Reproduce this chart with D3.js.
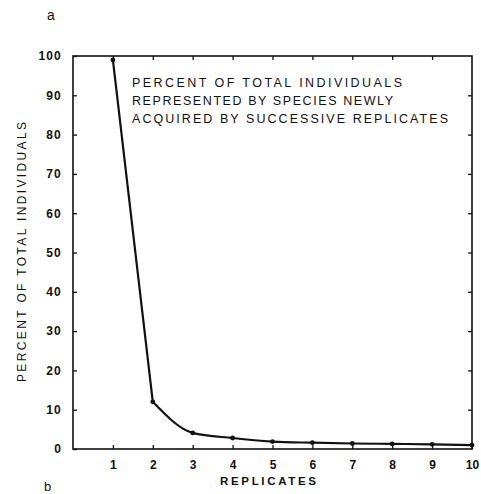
<!DOCTYPE html>
<html>
<head>
<meta charset="utf-8">
<script src="https://cdn.jsdelivr.net/npm/d3@7"></script>
<style>
  html, body { margin: 0; padding: 0; background: #fff; }
  svg { display: block; font-family: "Liberation Sans", Arial, Helvetica, sans-serif; }
</style>
</head>
<body>
<svg id="chart" width="481" height="494"></svg>
<script>
// Replicate number and percent of total individuals contributed by newly acquired species
const replicates = [1, 2, 3, 4, 5, 6, 7, 8, 9, 10];
const percentNew = [99, 12, 4.1, 2.8, 1.9, 1.6, 1.4, 1.3, 1.2, 1.0];
const yTicks = [0, 10, 20, 30, 40, 50, 60, 70, 80, 90, 100];
const noteLines = [
  "PERCENT OF TOTAL INDIVIDUALS",
  "REPRESENTED BY SPECIES NEWLY",
  "ACQUIRED BY SUCCESSIVE REPLICATES"
];
const yTitle = "PERCENT OF TOTAL INDIVIDUALS";
const xTitle = "REPLICATES";

const svg = d3.select("#chart");
const ink = "#111";

const plotL = 73, plotR = 472, plotT = 56, plotB = 449;
const x = d3.scaleLinear().domain([0, 10]).range([plotL, plotR]);
const y = d3.scaleLinear().domain([0, 100]).range([plotB, plotT]);

// panel letters
svg.append("text").attr("x", 47).attr("y", 20).attr("font-size", 14).attr("fill", ink).text("a");
svg.append("text").attr("x", 44).attr("y", 491).attr("font-size", 13).attr("fill", ink).text("b");

// frame
svg.append("rect")
  .attr("x", plotL).attr("y", plotT)
  .attr("width", plotR - plotL).attr("height", plotB - plotT)
  .attr("fill", "none").attr("stroke", ink).attr("stroke-width", 1.6);

// left axis: inward ticks with labels
const gL = svg.append("g").attr("transform", `translate(${plotL},0)`)
  .call(d3.axisLeft(y).tickValues(yTicks).tickSize(-4).tickPadding(11));
gL.select(".domain").remove();
gL.selectAll("line").attr("stroke", ink).attr("stroke-width", 1.3);
gL.selectAll("text").attr("font-size", 12).attr("font-weight", "bold")
  .attr("letter-spacing", 1.2)
  .attr("fill", ink).attr("font-family", "inherit");

// right axis: inward ticks only
const gR = svg.append("g").attr("transform", `translate(${plotR},0)`)
  .call(d3.axisRight(y).tickValues(yTicks.slice(1, -1)).tickSize(-4).tickFormat(""));
gR.select(".domain").remove();
gR.selectAll("line").attr("stroke", ink).attr("stroke-width", 1.3);

// bottom axis: inward ticks with labels
const gB = svg.append("g").attr("transform", `translate(0,${plotB})`)
  .call(d3.axisBottom(x).tickValues(replicates).tickSize(-4).tickPadding(11));
gB.select(".domain").remove();
gB.selectAll("line").attr("stroke", ink).attr("stroke-width", 1.3);
gB.selectAll("text").attr("font-size", 12).attr("font-weight", "bold")
  .attr("fill", ink).attr("font-family", "inherit");

// top axis: inward ticks only
const gT = svg.append("g").attr("transform", `translate(0,${plotT})`)
  .call(d3.axisTop(x).tickValues(replicates.slice(0, -1)).tickSize(-4).tickFormat(""));
gT.select(".domain").remove();
gT.selectAll("line").attr("stroke", ink).attr("stroke-width", 1.3);

// data curve: straight drop from replicate 1 to 2, smooth tail afterwards
const pts = percentNew.map((v, i) => [x(replicates[i]), y(v)]);
svg.append("path")
  .attr("d", d3.line()(pts.slice(0, 2)))
  .attr("fill", "none").attr("stroke", ink).attr("stroke-width", 2.2)
  .attr("stroke-linecap", "round");
svg.append("path")
  .attr("d", d3.line().curve(d3.curveMonotoneX)(pts.slice(1)))
  .attr("fill", "none").attr("stroke", ink).attr("stroke-width", 2.2)
  .attr("stroke-linecap", "round");

svg.selectAll("circle.pt").data(percentNew).join("circle")
  .attr("class", "pt")
  .attr("cx", (d, i) => x(replicates[i]))
  .attr("cy", d => y(d))
  .attr("r", 2.4).attr("fill", ink);

// annotation
const noteWidths = [270, 261, 316];
svg.append("g").selectAll("text").data(noteLines).join("text")
  .attr("x", 132)
  .attr("y", (d, i) => 87 + i * 18)
  .attr("font-size", 12.5)
  .attr("fill", ink)
  .attr("textLength", (d, i) => noteWidths[i])
  .attr("lengthAdjust", "spacing")
  .text(d => d);

// axis titles
svg.append("text")
  .attr("transform", `translate(26,${(122 + 382) / 2}) rotate(-90)`)
  .attr("text-anchor", "middle")
  .attr("font-size", 12)
  .attr("fill", ink)
  .attr("textLength", 260)
  .attr("lengthAdjust", "spacing")
  .text(yTitle);

svg.append("text")
  .attr("x", 268).attr("y", 485)
  .attr("text-anchor", "middle")
  .attr("font-size", 11.5).attr("font-weight", "bold")
  .attr("fill", ink)
  .attr("textLength", 96)
  .attr("lengthAdjust", "spacing")
  .text(xTitle);
</script>
</body>
</html>
